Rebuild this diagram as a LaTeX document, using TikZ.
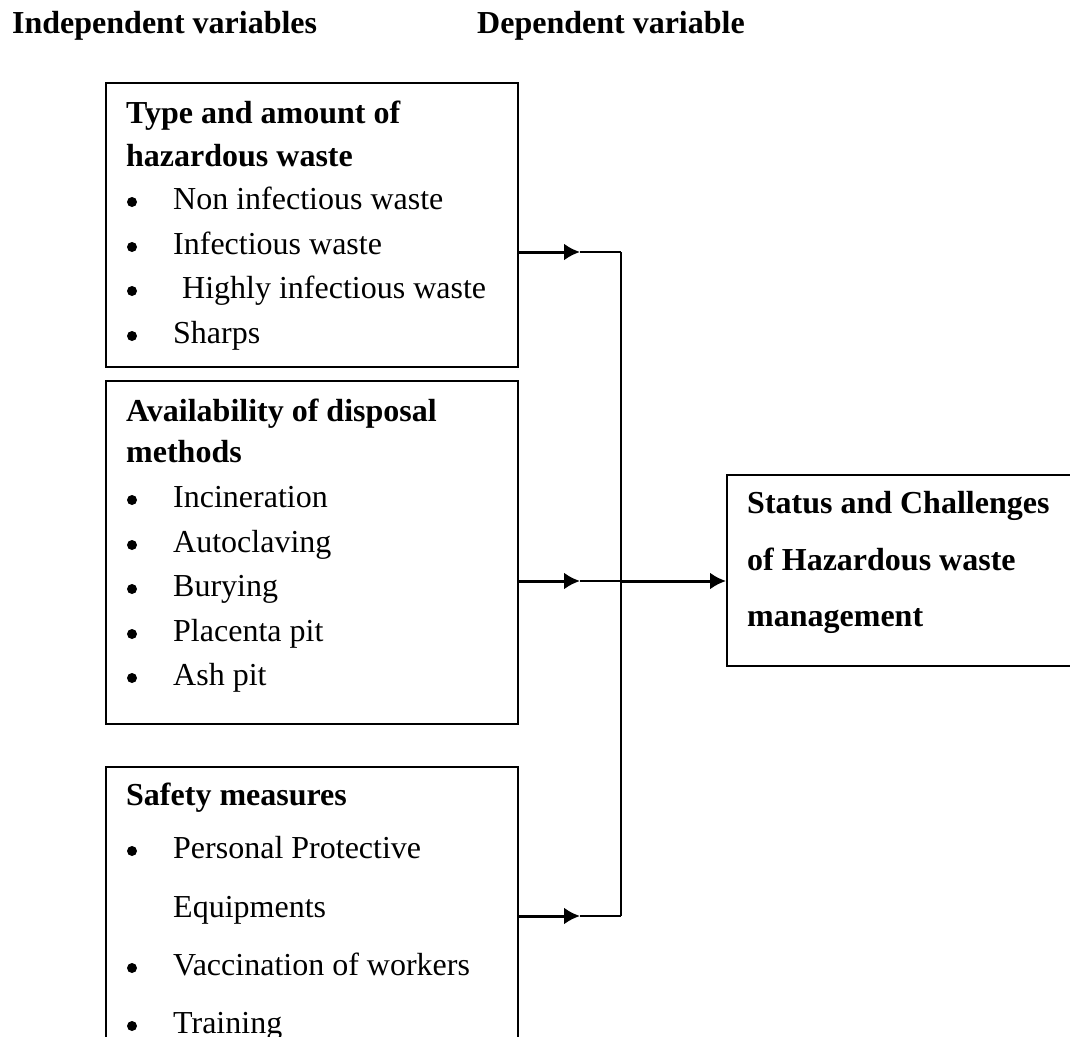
\documentclass[tikz,border=0pt]{standalone}
\usepackage{fontspec}
\setmainfont{Liberation Serif}
\usetikzlibrary{arrows.meta}
\tikzset{
  box/.style={draw=black, line width=1.5pt, rectangle, inner sep=0pt, anchor=north west},
  txt/.style={anchor=base west, inner sep=0pt, font=\fontsize{32}{38}\selectfont},
  hd/.style={txt, font=\fontsize{32}{38}\selectfont\bfseries},
  dot/.style={circle, fill=black, draw=none, inner sep=0pt, minimum size=10pt},
  thinline/.style={line width=1.5pt},
  thickarrow/.style={line width=3pt, -{Latex[length=16pt,width=17pt]}},
}
\begin{document}
\begin{tikzpicture}[x=1pt,y=-1pt]
\useasboundingbox (0,0) rectangle (1070,1036);
\clip (0,0) rectangle (1070,1036);
% headers
\node[hd] (hIndep) at (12,33) {Independent variables};
\node[hd] (hDep) at (477,33) {Dependent variable};
% boxes
\node[box, minimum width=412pt, minimum height=284pt] (b1) at (105,82) {};
\node[box, minimum width=412pt, minimum height=343pt] (b2) at (105,380) {};
\node[box, minimum width=412pt, minimum height=300pt] (b3) at (105,766) {};
\node[box, minimum width=400pt, minimum height=191pt] (out) at (726,474) {};
% box 1 text
\node[hd] (b1h1) at (126,123) {Type and amount of};
\node[hd] (b1h2) at (126,166) {hazardous waste};
\node[dot] (b1d1) at (132,202) {};
\node[txt] (b1i1) at (173,209) {Non infectious waste};
\node[dot] (b1d2) at (132,247) {};
\node[txt] (b1i2) at (173,254) {Infectious waste};
\node[dot] (b1d3) at (132,291) {};
\node[txt] (b1i3) at (182,298) {Highly infectious waste};
\node[dot] (b1d4) at (132,336) {};
\node[txt] (b1i4) at (173,343) {Sharps};
% box 2 text
\node[hd] (b2h1) at (126,421) {Availability of disposal};
\node[hd] (b2h2) at (126,462) {methods};
\node[dot] (b2d1) at (132,500) {};
\node[txt] (b2i1) at (173,507) {Incineration};
\node[dot] (b2d2) at (132,545) {};
\node[txt] (b2i2) at (173,552) {Autoclaving};
\node[dot] (b2d3) at (132,589) {};
\node[txt] (b2i3) at (173,596) {Burying};
\node[dot] (b2d4) at (132,634) {};
\node[txt] (b2i4) at (173,641) {Placenta pit};
\node[dot] (b2d5) at (132,678) {};
\node[txt] (b2i5) at (173,685) {Ash pit};
% box 3 text
\node[hd] (b3h1) at (126,805) {Safety measures};
\node[dot] (b3d1) at (132,851) {};
\node[txt] (b3i1) at (173,858) {Personal Protective};
\node[txt] (b3i1b) at (173,917) {Equipments};
\node[dot] (b3d2) at (132,968) {};
\node[txt] (b3i2) at (173,975) {Vaccination of workers};
\node[dot] (b3d3) at (132,1026) {};
\node[txt] (b3i3) at (173,1033) {Training};
% output text
\node[hd] (o1) at (747,513) {Status and Challenges};
\node[hd] (o2) at (747,570) {of Hazardous waste};
\node[hd] (o3) at (747,626) {management};
% connectors
\coordinate (j1) at (621,252);
\coordinate (j2) at (621,581);
\coordinate (j3) at (621,916);
\coordinate (m1) at (580,252);
\coordinate (m2) at (580,581);
\coordinate (m3) at (580,916);
\draw[thickarrow] (b1.east |- j1) -- (m1);
\draw[thinline] (m1) -- (j1);
\draw[thickarrow] (b2.east |- j2) -- (m2);
\draw[thinline] (m2) -- (j2);
\draw[thickarrow] (b3.east |- j3) -- (m3);
\draw[thinline] (m3) -- (j3);
\draw[thinline] (j1) -- (j3);
\draw[thickarrow] (j2) -- (out.west |- j2);
\end{tikzpicture}
\end{document}
